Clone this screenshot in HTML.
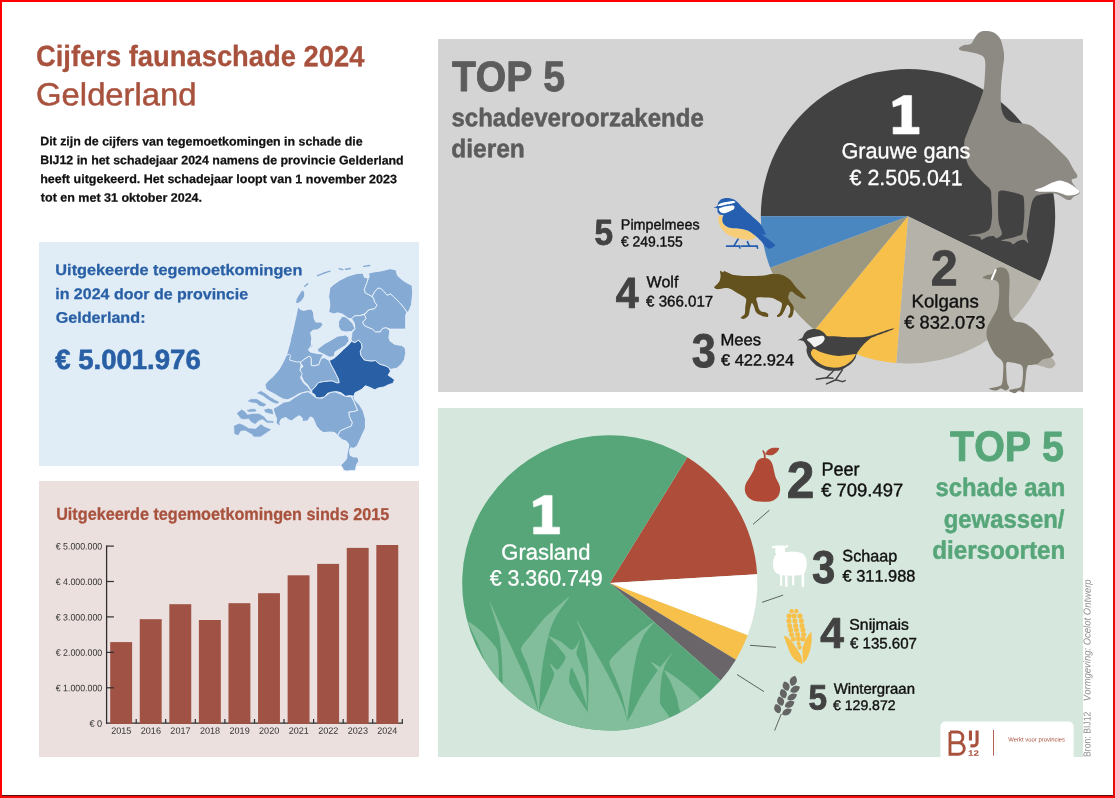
<!DOCTYPE html>
<html lang="nl"><head><meta charset="utf-8"><title>Cijfers faunaschade 2024 Gelderland</title>
<style>
html,body{margin:0;padding:0;background:#fff;}
body{width:1115px;height:798px;overflow:hidden;position:relative;font-family:"Liberation Sans",sans-serif;}
svg{position:absolute;left:0;top:0;display:block;opacity:0.9999;will-change:opacity;}
svg text{font-family:"Liberation Sans",sans-serif;font-kerning:none;text-rendering:geometricPrecision;}
.frame{position:absolute;left:0;top:0;width:1115px;height:798px;box-sizing:border-box;pointer-events:none;}
.fl{position:absolute;left:0;top:0;width:2px;height:798px;background:#fe0000;}
.ft{position:absolute;left:0;top:0;width:1115px;height:2px;background:#fe0000;}
.fr1{position:absolute;left:1113px;top:0;width:1px;height:798px;background:#d01414;}
.fr2{position:absolute;left:1114px;top:0;width:1px;height:798px;background:#fb0505;}
.fb1{position:absolute;left:0;top:795px;width:1115px;height:1px;background:#5a1008;}
.fb2{position:absolute;left:0;top:796px;width:1115px;height:2px;background:#f50a0a;}
</style></head>
<body>
<svg width="1115" height="798" viewBox="0 0 1115 798">
<rect x="39.00" y="242.00" width="380.00" height="224.00" fill="#e0ecf6" />
<rect x="39.00" y="481.00" width="380.00" height="276.00" fill="#ebe0de" />
<rect x="438.00" y="39.00" width="645.00" height="353.00" fill="#d4d4d4" />
<rect x="438.00" y="408.00" width="645.00" height="349.00" fill="#d6e8dd" />
<text x="36.03" y="66.05" font-size="29.22" font-weight="bold"  fill="#a8523e" textLength="328.37" lengthAdjust="spacingAndGlyphs" transform="rotate(0.05 200.7 66.0)"  stroke="#a8523e" stroke-width="0.3" stroke-linejoin="round">Cijfers faunaschade 2024</text>
<text x="36.10" y="105.30" font-size="31.83"   fill="#a8523e" textLength="160.46" lengthAdjust="spacingAndGlyphs" transform="rotate(0.05 116.1 105.3)"  stroke="#a8523e" stroke-width="0.5" stroke-linejoin="round">Gelderland</text>
<text x="40.20" y="145.47" font-size="12.21" font-weight="bold"  fill="#111" textLength="322.40" lengthAdjust="spacingAndGlyphs" transform="rotate(0.05 201.6 145.5)"  stroke="#111" stroke-width="0.25" stroke-linejoin="round">Dit zijn de cijfers van tegemoetkomingen in schade die</text>
<text x="40.20" y="164.28" font-size="12.21" font-weight="bold"  fill="#111" textLength="363.50" lengthAdjust="spacingAndGlyphs" transform="rotate(0.05 221.9 164.3)"  stroke="#111" stroke-width="0.25" stroke-linejoin="round">BIJ12 in het schadejaar 2024 namens de provincie Gelderland</text>
<text x="40.15" y="183.07" font-size="12.21" font-weight="bold"  fill="#111" textLength="356.78" lengthAdjust="spacingAndGlyphs" transform="rotate(0.05 218.8 183.1)"  stroke="#111" stroke-width="0.25" stroke-linejoin="round">heeft uitgekeerd. Het schadejaar loopt van 1 november 2023</text>
<text x="40.87" y="201.68" font-size="12.21" font-weight="bold"  fill="#111" textLength="161.16" lengthAdjust="spacingAndGlyphs" transform="rotate(0.05 121.1 201.7)"  stroke="#111" stroke-width="0.25" stroke-linejoin="round">tot en met 31 oktober 2024.</text>
<text x="55.35" y="275.07" font-size="15.33" font-weight="bold"  fill="#285fa5" textLength="247.04" lengthAdjust="spacingAndGlyphs" transform="rotate(0.05 178.8 275.1)"  stroke="#285fa5" stroke-width="0.25" stroke-linejoin="round">Uitgekeerde tegemoetkomingen</text>
<text x="55.21" y="299.18" font-size="15.33" font-weight="bold"  fill="#285fa5" textLength="192.91" lengthAdjust="spacingAndGlyphs" transform="rotate(0.05 151.9 299.2)"  stroke="#285fa5" stroke-width="0.25" stroke-linejoin="round">in 2024 door de provincie</text>
<text x="55.66" y="322.77" font-size="15.33" font-weight="bold"  fill="#285fa5" textLength="89.87" lengthAdjust="spacingAndGlyphs" transform="rotate(0.05 100.2 322.8)"  stroke="#285fa5" stroke-width="0.25" stroke-linejoin="round">Gelderland:</text>
<text x="55.17" y="369.00" font-size="27.76" font-weight="bold"  fill="#285fa5" textLength="145.63" lengthAdjust="spacingAndGlyphs" transform="rotate(0.05 127.5 369.0)"  stroke="#285fa5" stroke-width="0.6" stroke-linejoin="round">€ 5.001.976</text>
<text x="56.18" y="519.85" font-size="17.15" font-weight="bold"  fill="#a8523e" textLength="333.12" lengthAdjust="spacingAndGlyphs" transform="rotate(0.05 223.0 519.9)"  stroke="#a8523e" stroke-width="0.3" stroke-linejoin="round">Uitgekeerde tegemoetkomingen sinds 2015</text>
<line x1="106.6" y1="545.5" x2="106.6" y2="723.8" stroke="#2e2e2e" stroke-width="1.3" />
<line x1="106.0" y1="723.2" x2="402.9" y2="723.2" stroke="#2e2e2e" stroke-width="1.3" />
<rect x="110.20" y="642.10" width="21.90" height="81.80" fill="#a05244" />
<rect x="139.77" y="619.20" width="21.90" height="104.70" fill="#a05244" />
<rect x="169.34" y="604.20" width="21.90" height="119.70" fill="#a05244" />
<rect x="198.91" y="620.00" width="21.90" height="103.90" fill="#a05244" />
<rect x="228.48" y="603.20" width="21.90" height="120.70" fill="#a05244" />
<rect x="258.05" y="593.20" width="21.90" height="130.70" fill="#a05244" />
<rect x="287.62" y="575.30" width="21.90" height="148.60" fill="#a05244" />
<rect x="317.19" y="563.90" width="21.90" height="160.00" fill="#a05244" />
<rect x="346.76" y="547.90" width="21.90" height="176.00" fill="#a05244" />
<rect x="376.33" y="545.00" width="21.90" height="178.90" fill="#a05244" />
<text x="89.43" y="726.70" font-size="9.40"   fill="#333" textLength="12.83" lengthAdjust="spacingAndGlyphs" transform="rotate(0.05 95.7 726.7)" >€ 0</text>
<line x1="106.6" y1="687.8" x2="113.9" y2="687.8" stroke="#2e2e2e" stroke-width="1.2" />
<text x="55.73" y="691.28" font-size="9.40"   fill="#333" textLength="46.51" lengthAdjust="spacingAndGlyphs" transform="rotate(0.05 78.8 691.3)" >€ 1.000.000</text>
<line x1="106.6" y1="652.4" x2="113.9" y2="652.4" stroke="#2e2e2e" stroke-width="1.2" />
<text x="55.73" y="655.86" font-size="9.40"   fill="#333" textLength="46.51" lengthAdjust="spacingAndGlyphs" transform="rotate(0.05 78.8 655.9)" >€ 2.000.000</text>
<line x1="106.6" y1="616.9" x2="113.9" y2="616.9" stroke="#2e2e2e" stroke-width="1.2" />
<text x="55.73" y="620.44" font-size="9.40"   fill="#333" textLength="46.51" lengthAdjust="spacingAndGlyphs" transform="rotate(0.05 78.8 620.4)" >€ 3.000.000</text>
<line x1="106.6" y1="581.5" x2="113.9" y2="581.5" stroke="#2e2e2e" stroke-width="1.2" />
<text x="55.73" y="585.02" font-size="9.40"   fill="#333" textLength="46.51" lengthAdjust="spacingAndGlyphs" transform="rotate(0.05 78.8 585.0)" >€ 4.000.000</text>
<line x1="106.6" y1="546.1" x2="113.9" y2="546.1" stroke="#2e2e2e" stroke-width="1.2" />
<text x="55.73" y="549.60" font-size="9.40"   fill="#333" textLength="46.51" lengthAdjust="spacingAndGlyphs" transform="rotate(0.05 78.8 549.6)" >€ 5.000.000</text>
<line x1="136.2" y1="723.2" x2="136.2" y2="719.0" stroke="#2e2e2e" stroke-width="1.2" />
<line x1="165.7" y1="723.2" x2="165.7" y2="719.0" stroke="#2e2e2e" stroke-width="1.2" />
<line x1="195.3" y1="723.2" x2="195.3" y2="719.0" stroke="#2e2e2e" stroke-width="1.2" />
<line x1="224.9" y1="723.2" x2="224.9" y2="719.0" stroke="#2e2e2e" stroke-width="1.2" />
<line x1="254.5" y1="723.2" x2="254.5" y2="719.0" stroke="#2e2e2e" stroke-width="1.2" />
<line x1="284.0" y1="723.2" x2="284.0" y2="719.0" stroke="#2e2e2e" stroke-width="1.2" />
<line x1="313.6" y1="723.2" x2="313.6" y2="719.0" stroke="#2e2e2e" stroke-width="1.2" />
<line x1="343.2" y1="723.2" x2="343.2" y2="719.0" stroke="#2e2e2e" stroke-width="1.2" />
<line x1="372.7" y1="723.2" x2="372.7" y2="719.0" stroke="#2e2e2e" stroke-width="1.2" />
<line x1="402.3" y1="723.2" x2="402.3" y2="719.0" stroke="#2e2e2e" stroke-width="1.2" />
<text x="111.23" y="733.80" font-size="9.10"   fill="#333" textLength="20.14" lengthAdjust="spacingAndGlyphs" transform="rotate(0.05 121.3 733.8)" >2015</text>
<text x="140.80" y="733.80" font-size="9.10"   fill="#333" textLength="20.15" lengthAdjust="spacingAndGlyphs" transform="rotate(0.05 150.9 733.8)" >2016</text>
<text x="170.37" y="733.80" font-size="9.10"   fill="#333" textLength="20.21" lengthAdjust="spacingAndGlyphs" transform="rotate(0.05 180.5 733.8)" >2017</text>
<text x="199.94" y="733.80" font-size="9.10"   fill="#333" textLength="20.15" lengthAdjust="spacingAndGlyphs" transform="rotate(0.05 210.0 733.8)" >2018</text>
<text x="229.51" y="733.80" font-size="9.10"   fill="#333" textLength="20.19" lengthAdjust="spacingAndGlyphs" transform="rotate(0.05 239.6 733.8)" >2019</text>
<text x="259.08" y="733.80" font-size="9.10"   fill="#333" textLength="20.11" lengthAdjust="spacingAndGlyphs" transform="rotate(0.05 269.2 733.8)" >2020</text>
<text x="288.65" y="733.80" font-size="9.10"   fill="#333" textLength="20.20" lengthAdjust="spacingAndGlyphs" transform="rotate(0.05 298.8 733.8)" >2021</text>
<text x="318.22" y="733.80" font-size="9.10"   fill="#333" textLength="20.21" lengthAdjust="spacingAndGlyphs" transform="rotate(0.05 328.3 733.8)" >2022</text>
<text x="347.79" y="733.80" font-size="9.10"   fill="#333" textLength="20.15" lengthAdjust="spacingAndGlyphs" transform="rotate(0.05 357.9 733.8)" >2023</text>
<text x="377.36" y="733.80" font-size="9.10"   fill="#333" textLength="20.02" lengthAdjust="spacingAndGlyphs" transform="rotate(0.05 387.5 733.8)" >2024</text>
<polygon points="329.9,287.7 334.0,284.2 339.8,280.2 348.0,276.1 357.3,273.4 363.1,273.2 364.3,277.2 368.4,278.4 366.6,283.6 364.3,289.5 365.4,293.0 370.1,295.3 373.6,298.2 374.8,302.3 377.1,305.2 374.8,308.7 368.9,309.9 364.3,314.0 359.6,315.7 355.0,315.7 351.5,318.6 348.5,318.6 345.6,316.3 342.1,314.0 337.5,312.8 334.0,314.0 328.7,312.2 329.9,304.6 328.7,296.5" fill="#85aad4" stroke="#e8f1fa" stroke-width="0.9" stroke-linejoin="round"/>
<polygon points="368.4,273.2 373.6,272.0 381.8,270.8 389.9,268.7 395.8,269.7 397.5,275.5 402.8,280.2 407.4,283.1 412.1,285.4 412.7,293.0 411.5,304.6 409.2,310.5 406.8,312.8 405.1,309.3 399.3,302.3 393.4,296.5 390.5,294.1 387.0,295.3 384.1,291.8 380.6,288.3 377.7,288.3 374.2,292.4 372.4,296.5 370.1,295.3 365.4,293.0 364.3,289.5 366.6,283.6 368.4,278.4 369.2,276.7" fill="#85aad4" stroke="#e8f1fa" stroke-width="0.9" stroke-linejoin="round"/>
<polygon points="374.2,292.4 377.7,288.3 380.6,288.3 384.1,291.8 387.0,295.3 390.5,294.1 393.4,296.5 399.3,302.3 405.1,309.3 406.8,312.8 405.7,315.1 405.7,329.1 401.6,329.1 389.9,329.1 387.0,328.0 384.1,328.0 381.2,329.7 380.6,332.0 375.4,332.0 372.4,329.1 367.8,327.4 364.3,325.6 362.5,322.1 366.0,318.6 364.3,315.1 368.9,309.9 374.8,308.7 377.1,305.2 374.8,302.3 373.6,298.2 372.4,296.5" fill="#85aad4" stroke="#e8f1fa" stroke-width="0.9" stroke-linejoin="round"/>
<polygon points="351.5,318.6 355.0,315.7 359.6,315.7 364.3,314.5 366.0,318.6 362.5,322.1 364.3,325.6 367.8,327.4 372.4,329.1 375.4,332.0 380.6,332.0 381.2,329.7 384.1,328.0 387.0,328.0 389.9,330.9 389.3,334.9 388.8,337.3 389.9,340.8 394.6,344.3 401.6,345.5 405.1,347.8 405.7,352.5 404.5,359.5 401.6,364.1 396.9,368.2 390.5,369.4 388.8,367.6 385.3,365.9 379.4,364.1 375.4,360.6 371.3,361.2 364.3,360.1 360.8,355.4 360.2,351.3 361.9,347.8 361.4,343.7 358.5,340.2 355.0,342.6 351.5,341.4 350.9,337.3 351.5,337.3 352.0,332.6 355.0,329.1 354.4,323.3" fill="#85aad4" stroke="#e8f1fa" stroke-width="0.9" stroke-linejoin="round"/>
<polygon points="342.1,316.3 345.6,316.9 348.5,319.2 352.6,323.3 355.0,328.5 351.5,331.5 345.6,332.0 341.0,330.9 338.6,326.8 338.6,321.5" fill="#85aad4" stroke="#e8f1fa" stroke-width="0.9" stroke-linejoin="round"/>
<polygon points="317.6,349.0 324.6,343.7 331.6,339.7 337.5,336.2 345.6,335.0 348.5,337.3 349.1,340.8 345.6,345.5 339.8,349.0 335.1,351.9 334.0,356.6 329.3,357.2 323.5,354.2 317.6,351.3" fill="#85aad4" stroke="#e8f1fa" stroke-width="0.9" stroke-linejoin="round"/>
<polygon points="297.8,306.4 300.2,309.3 303.7,310.5 308.3,309.3 311.8,309.3 313.6,312.8 314.1,318.6 315.9,322.1 321.1,322.1 322.9,324.5 321.1,327.4 317.6,329.7 313.0,330.3 310.6,332.6 311.8,338.4 311.2,343.1 313.0,345.4 310.1,351.0 312.4,339.7 311.8,345.5 308.3,349.6 310.1,351.9 316.5,353.4 323.5,354.2 321.1,358.3 318.8,364.7 314.1,365.9 311.2,365.3 311.2,358.3 309.5,356.0 304.8,358.9 300.2,362.4 296.7,362.4 289.7,360.6 288.5,355.4 286.5,354.9 287.7,350.8 290.0,342.6 291.8,333.3 293.5,321.7 294.7,310.0 292.0,333.8 295.5,318.6 297.2,310.5" fill="#85aad4" stroke="#e8f1fa" stroke-width="0.9" stroke-linejoin="round"/>
<polygon points="300.2,362.4 304.8,358.9 309.5,356.0 311.2,358.3 311.2,365.3 314.1,365.9 318.8,364.7 321.1,358.3 324.6,357.7 329.3,360.6 331.1,364.7 334.0,370.0 336.3,374.6 338.6,379.3 339.2,382.8 336.3,382.8 332.8,381.1 329.3,381.1 323.5,381.6 318.2,382.8 315.3,386.9 311.8,390.4 310.1,389.2 307.7,385.1 303.7,381.1 300.7,374.6 300.2,368.8 303.1,366.5" fill="#85aad4" stroke="#e8f1fa" stroke-width="0.9" stroke-linejoin="round"/>
<polygon points="286.5,354.9 289.5,354.3 290.6,355.5 289.5,360.1 296.5,361.9 300.0,361.9 301.1,364.8 300.0,370.6 302.3,373.5 300.5,377.6 303.5,382.9 308.1,386.9 310.4,390.4 311.6,392.2 307.5,391.6 304.6,392.2 298.8,393.9 293.0,397.4 287.7,399.8 283.6,399.2 279.0,396.9 274.3,393.9 269.6,391.6 266.1,389.3 265.0,384.6 268.5,380.5 273.1,376.5 279.0,369.5 283.6,361.3" fill="#85aad4" stroke="#e8f1fa" stroke-width="0.9" stroke-linejoin="round"/>
<polygon points="273.1,408.7 279.0,405.2 283.6,402.2 289.5,401.1 295.3,397.0 302.3,392.9 308.1,391.7 311.6,394.1 315.7,397.6 322.1,398.2 326.8,395.2 330.3,392.3 334.9,391.7 340.8,394.1 345.4,396.4 350.7,396.4 353.6,400.5 355.9,406.3 357.7,410.4 353.6,411.6 348.9,412.2 349.5,416.8 352.4,422.6 351.3,426.1 345.4,428.5 340.2,430.8 337.8,435.5 334.9,432.6 330.3,432.0 323.3,432.6 319.8,430.2 316.3,426.1 314.5,421.5 312.8,418.0 310.4,416.8 307.5,420.9 302.3,421.5 302.3,418.0 299.4,415.6 295.3,418.0 291.8,420.9 288.3,419.7 286.0,417.4 281.3,419.1 279.6,422.6 280.7,425.6 277.8,425.0 276.1,422.6 276.6,418.6 274.9,414.5" fill="#85aad4" stroke="#e8f1fa" stroke-width="0.9" stroke-linejoin="round"/>
<polygon points="357.7,410.4 353.6,411.6 348.9,412.2 349.5,416.8 352.4,422.6 351.3,426.1 345.4,428.5 340.2,430.8 337.8,435.5 339.0,436.6 341.9,439.6 346.6,441.3 348.9,444.8 348.3,448.3 347.2,453.0 346.6,458.8 343.7,462.3 340.8,465.2 342.5,467.5 343.7,470.4 347.2,471.0 351.3,470.4 355.3,470.4 356.5,464.6 358.8,461.1 357.7,457.0 353.6,457.0 350.1,455.3 349.5,450.6 350.7,447.7 353.6,448.3 357.1,446.0 365.4,428.0 365.4,418.9 363.1,410.8 359.6,405.0 355.0,400.3 353.8,396.2 351.5,395.6" fill="#85aad4" stroke="#e8f1fa" stroke-width="0.9" stroke-linejoin="round"/>
<polygon points="257.4,392.9 260.9,391.2 265.0,393.5 269.6,397.0 275.5,400.5 279.0,402.2 276.6,403.4 272.0,401.7 267.3,398.7 262.6,395.2" fill="#85aad4" stroke="#85aad4" stroke-width="0.4" stroke-linejoin="round"/>
<polygon points="248.1,401.1 251.0,399.3 256.8,399.3 261.5,402.2 266.1,404.6 263.8,406.3 259.7,405.7 256.2,402.8 251.6,402.2" fill="#85aad4" stroke="#85aad4" stroke-width="0.4" stroke-linejoin="round"/>
<polygon points="246.9,410.4 251.0,409.2 255.1,409.2 256.2,411.0 252.7,411.6 248.7,411.6" fill="#85aad4" stroke="#85aad4" stroke-width="0.4" stroke-linejoin="round"/>
<polygon points="264.4,409.8 268.5,408.7 272.0,409.8 273.1,413.9 269.6,413.3 265.6,412.2" fill="#85aad4" stroke="#85aad4" stroke-width="0.4" stroke-linejoin="round"/>
<polygon points="237.0,413.3 241.7,409.8 244.6,411.6 247.5,415.1 252.2,413.9 259.1,413.9 263.8,416.8 267.3,420.9 273.7,421.5 273.1,422.6 267.3,422.6 262.6,419.1 259.1,420.3 255.1,423.8 251.0,421.5 248.7,418.6 244.0,419.1 241.1,418.6" fill="#85aad4" stroke="#85aad4" stroke-width="0.4" stroke-linejoin="round"/>
<polygon points="234.1,426.1 239.3,423.8 242.8,425.0 248.7,428.5 255.6,429.1 260.9,424.4 265.0,427.3 270.8,429.6 263.8,434.3 260.3,436.6 253.9,436.6 252.2,434.3 245.2,430.2 240.5,430.8 238.2,434.9 234.7,433.7" fill="#85aad4" stroke="#85aad4" stroke-width="0.4" stroke-linejoin="round"/>
<path d="M302.7,290.6C303.4,290.5 304.1,292.7 304.2,293.6C304.4,294.4 304.1,296.2 303.8,297.1C303.4,297.9 302.3,299.4 301.6,300.2C300.8,301.0 299.0,302.4 298.3,302.8C297.6,303.1 296.5,303.3 296.3,302.8C296.1,302.2 296.5,299.9 296.9,298.8C297.3,297.7 298.7,295.5 299.5,294.4C300.2,293.3 302.1,290.8 302.7,290.6Z" fill="#85aad4" />
<line x1="304.8" y1="286.2" x2="307.7" y2="283.9" stroke="#85aad4" stroke-width="1.4" stroke-linecap="round"/>
<line x1="317.6" y1="275.7" x2="324.6" y2="272.8" stroke="#85aad4" stroke-width="1.4" stroke-linecap="round"/>
<line x1="324.6" y1="272.8" x2="329.9" y2="271.1" stroke="#85aad4" stroke-width="1.4" stroke-linecap="round"/>
<line x1="339.2" y1="268.7" x2="342.7" y2="269.7" stroke="#85aad4" stroke-width="1.4" stroke-linecap="round"/>
<line x1="345.6" y1="269.3" x2="350.3" y2="268.5" stroke="#85aad4" stroke-width="1.4" stroke-linecap="round"/>
<line x1="363.7" y1="266.4" x2="369.5" y2="265.5" stroke="#85aad4" stroke-width="1.4" stroke-linecap="round"/>
<polygon points="351.5,341.4 355.0,342.6 358.5,340.2 361.4,343.7 361.9,347.8 360.2,351.3 360.8,355.4 364.3,360.1 371.3,361.2 375.4,360.6 379.4,364.1 385.3,365.9 388.8,367.6 390.5,371.1 388.2,375.2 391.7,377.6 394.6,379.9 392.8,383.4 388.8,384.6 384.1,386.9 378.3,388.0 374.8,389.8 370.1,387.5 365.4,385.7 361.9,389.2 358.5,391.0 355.0,392.7 353.8,396.2 349.7,395.6 345.6,396.2 341.0,392.7 336.3,391.5 331.6,392.1 327.6,393.3 324.6,396.8 320.0,398.0 315.9,397.4 314.7,394.5 311.8,392.7 311.8,390.4 315.3,386.9 318.2,382.8 323.5,381.6 329.3,381.1 332.8,381.1 336.3,382.8 339.2,382.8 338.6,379.3 336.3,374.6 334.0,370.0 331.1,364.7 329.3,360.6 334.0,358.3 338.6,354.2 343.3,349.6 348.5,344.9" fill="#285fa5" stroke="#e8f1fa" stroke-width="0.9" stroke-linejoin="round"/>
<text x="452.01" y="91.05" font-size="42.44" font-weight="bold"  fill="#5c5c5c" textLength="112.93" lengthAdjust="spacingAndGlyphs" transform="rotate(0.05 508.1 91.0)"  stroke="#5c5c5c" stroke-width="0.9" stroke-linejoin="round">TOP 5</text>
<text x="451.41" y="126.35" font-size="25.47" font-weight="bold"  fill="#5c5c5c" textLength="252.37" lengthAdjust="spacingAndGlyphs" transform="rotate(0.05 577.6 126.3)"  stroke="#5c5c5c" stroke-width="0.5" stroke-linejoin="round">schadeveroorzakende</text>
<text x="451.24" y="157.25" font-size="25.47" font-weight="bold"  fill="#5c5c5c" textLength="73.63" lengthAdjust="spacingAndGlyphs" transform="rotate(0.05 487.8 157.2)"  stroke="#5c5c5c" stroke-width="0.5" stroke-linejoin="round">dieren</text>
<path d="M908.00,216.20L760.80,216.20A147.2,147.2 0 1 1 1040.17,281.00Z" fill="#424242"/>
<path d="M908.00,216.20L1040.17,281.00A147.2,147.2 0 0 1 896.24,362.93Z" fill="#b5b2aa"/>
<path d="M908.00,216.20L896.24,362.93A147.2,147.2 0 0 1 814.60,329.97Z" fill="#f7c04a"/>
<path d="M908.00,216.20L814.60,329.97A147.2,147.2 0 0 1 770.12,267.75Z" fill="#9c9880"/>
<path d="M908.00,216.20L770.12,267.75A147.2,147.2 0 0 1 760.80,216.20Z" fill="#4a86c0"/>
<path d="M959.0,48.3C959.4,47.4 961.5,46.1 963.5,45.3C965.5,44.5 969.2,45.1 971.1,43.8C972.9,42.5 973.4,39.7 974.8,37.8C976.2,35.9 977.6,33.6 979.3,32.5C981.1,31.4 983.0,31.0 985.3,31.0C987.7,31.0 991.2,31.4 993.6,32.5C996.0,33.6 998.1,35.5 999.6,37.8C1001.1,40.0 1001.9,42.9 1002.6,46.1C1003.4,49.2 1004.1,52.6 1004.1,56.6C1004.1,60.6 1003.1,65.4 1002.6,70.1C1002.1,74.9 1001.4,80.1 1001.1,85.2C1000.8,90.2 1000.7,95.9 1000.8,100.2C1001.0,104.4 1001.1,107.7 1001.9,110.7C1002.7,113.7 1004.0,116.4 1005.6,118.2C1007.3,120.1 1008.9,121.1 1011.7,122.0C1014.4,122.9 1018.9,122.9 1022.2,123.5C1025.4,124.1 1028.2,124.1 1031.2,125.8C1034.2,127.4 1037.2,130.8 1040.2,133.3C1043.2,135.7 1046.2,137.8 1049.2,140.5C1052.3,143.2 1055.3,146.5 1058.3,149.5C1061.3,152.6 1064.8,155.3 1067.3,158.6C1069.8,161.8 1071.7,166.3 1073.3,169.1C1074.9,171.9 1076.6,173.6 1077.1,175.1C1077.6,176.6 1077.2,177.4 1076.3,178.1C1075.4,178.9 1072.3,178.6 1071.8,179.6C1071.3,180.6 1072.1,182.1 1073.3,184.1C1074.6,186.1 1078.6,189.9 1079.3,191.7C1080.1,193.4 1078.8,193.8 1077.8,194.7C1076.8,195.5 1074.6,196.0 1073.3,196.9C1072.1,197.8 1071.6,199.5 1070.3,199.9C1069.0,200.3 1067.8,200.1 1065.8,199.2C1063.8,198.3 1060.5,195.7 1058.3,194.7C1056.0,193.7 1055.3,193.2 1052.3,193.2C1049.2,193.2 1043.1,194.0 1040.2,194.7C1037.3,195.3 1036.3,195.7 1035.0,196.9C1033.6,198.2 1032.8,199.3 1032.0,202.2C1031.1,205.1 1030.3,210.2 1029.7,214.2C1029.1,218.2 1028.7,222.7 1028.2,226.2C1027.7,229.7 1026.7,232.5 1026.7,235.3C1026.7,238.0 1028.7,242.0 1028.2,242.8C1027.7,243.5 1025.4,240.0 1023.7,239.8C1021.9,239.5 1019.4,240.5 1017.7,241.3C1015.9,242.0 1014.4,244.2 1013.2,244.3C1011.9,244.4 1012.2,242.7 1010.2,242.0C1008.1,241.4 1001.1,241.2 1001.1,240.5C1001.1,239.9 1007.4,239.0 1010.2,238.3C1012.9,237.5 1015.7,236.8 1017.7,236.0C1019.7,235.3 1021.2,235.9 1022.2,233.8C1023.2,231.6 1023.3,227.0 1023.7,223.2C1024.1,219.5 1024.4,215.5 1024.4,211.2C1024.4,206.9 1024.3,200.4 1023.7,197.7C1023.1,194.9 1022.9,195.7 1020.7,194.7C1018.4,193.7 1013.7,192.3 1010.2,191.7C1006.6,191.0 1001.6,189.9 999.6,190.9C997.6,191.9 998.4,194.3 998.1,197.7C997.9,201.1 998.0,206.9 998.1,211.2C998.2,215.5 998.2,219.5 998.9,223.2C999.5,227.0 1002.3,231.3 1001.9,233.8C1001.5,236.3 998.0,237.9 996.6,238.3C995.2,238.6 995.1,236.3 993.6,236.0C992.1,235.8 989.6,236.1 987.6,236.8C985.6,237.4 983.0,239.8 981.6,239.8C980.2,239.8 981.6,237.5 979.3,236.8C977.1,236.0 967.9,235.8 968.0,235.3C968.2,234.8 976.8,234.5 980.1,233.8C983.3,233.0 985.8,232.0 987.6,230.8C989.3,229.5 989.8,229.0 990.6,226.2C991.4,223.5 992.0,218.5 992.1,214.2C992.2,209.9 991.6,204.7 991.4,200.7C991.1,196.7 991.7,192.9 990.6,190.2C989.5,187.4 987.1,186.6 984.6,184.1C982.1,181.6 978.3,178.4 975.6,175.1C972.8,171.9 969.8,168.3 968.0,164.6C966.3,160.8 965.7,156.3 965.0,152.6C964.4,148.8 964.0,145.0 964.3,142.0C964.5,139.1 965.4,138.0 966.5,134.8C967.7,131.6 969.5,126.5 971.1,122.7C972.6,119.0 974.1,116.0 975.6,112.2C977.1,108.5 978.7,104.2 980.1,100.2C981.5,96.2 983.0,92.4 983.8,88.2C984.6,83.9 984.6,78.6 984.9,74.6C985.1,70.6 985.5,67.0 985.3,64.1C985.2,61.2 985.0,59.0 983.8,57.3C982.7,55.7 981.0,55.2 978.6,54.3C976.2,53.4 972.4,52.7 969.5,52.1C966.7,51.4 963.0,51.2 961.3,50.6C959.5,49.9 958.6,49.2 959.0,48.3Z" fill="#8c8a82" />
<path d="M1035.0,190.2C1035.5,189.4 1040.4,188.4 1043.2,187.1C1046.1,185.9 1049.5,183.8 1052.3,182.6C1055.0,181.5 1057.3,180.4 1059.8,180.4C1062.3,180.4 1064.8,181.5 1067.3,182.6C1069.8,183.8 1072.8,185.6 1074.8,187.1C1076.8,188.6 1079.3,190.4 1079.3,191.7C1079.3,192.9 1076.8,194.0 1074.8,194.7C1072.8,195.3 1070.1,195.8 1067.3,195.4C1064.5,195.0 1061.3,193.0 1058.3,192.4C1055.3,191.8 1052.3,191.8 1049.2,191.7C1046.2,191.5 1042.6,191.9 1040.2,191.7C1037.8,191.4 1034.5,190.9 1035.0,190.2Z" fill="#ffffff" />
<path d="M1039.1,355.4C1040.6,354.3 1045.4,355.0 1047.3,355.5C1049.1,356.1 1052.0,358.2 1053.1,359.4C1054.2,360.6 1055.8,363.2 1055.5,364.5C1055.1,365.7 1052.1,368.2 1050.4,368.5C1048.7,368.7 1044.7,367.3 1042.7,366.6C1040.8,366.0 1036.3,365.2 1035.8,363.7C1035.3,362.2 1037.6,356.5 1039.1,355.4Z" fill="#b0ada5" />
<path d="M982.7,277.7C982.3,277.0 985.8,275.6 987.3,275.0C988.8,274.4 990.6,275.0 991.8,274.1C993.0,273.2 993.3,270.7 994.5,269.5C995.8,268.4 997.4,267.6 999.1,267.4C1000.8,267.1 1003.0,267.3 1004.5,268.1C1006.1,268.9 1007.3,270.2 1008.2,272.3C1009.0,274.3 1009.5,276.7 1009.6,280.5C1009.8,284.2 1009.2,290.2 1009.1,295.0C1009.0,299.8 1008.8,305.9 1009.1,309.5C1009.4,313.2 1009.8,314.8 1010.9,316.8C1012.0,318.8 1013.2,320.3 1015.5,321.4C1017.7,322.4 1021.8,322.1 1024.5,323.2C1027.3,324.2 1029.4,325.8 1031.8,327.7C1034.2,329.7 1036.7,332.3 1039.1,335.0C1041.5,337.7 1044.2,341.4 1046.4,344.1C1048.5,346.8 1050.6,349.5 1051.8,351.4C1053.0,353.2 1053.9,353.9 1053.6,355.0C1053.3,356.1 1051.8,357.0 1050.0,357.7C1048.2,358.5 1044.8,358.5 1042.7,359.5C1040.6,360.6 1039.1,363.2 1037.3,364.1C1035.5,365.0 1033.5,364.5 1031.8,365.0C1030.2,365.5 1028.3,364.2 1027.3,366.8C1026.2,369.4 1025.9,376.8 1025.5,380.5C1025.0,384.1 1024.8,386.7 1024.5,388.6C1024.2,390.6 1024.5,392.0 1023.6,392.3C1022.7,392.6 1020.6,390.3 1019.1,390.5C1017.6,390.6 1016.2,393.2 1014.5,393.2C1012.9,393.2 1008.9,391.2 1009.1,390.5C1009.2,389.7 1013.5,389.2 1015.5,388.6C1017.4,388.0 1019.7,388.5 1020.9,386.8C1022.1,385.2 1022.4,381.8 1022.7,378.6C1023.0,375.5 1023.3,370.2 1022.7,367.7C1022.1,365.3 1021.2,365.0 1019.1,364.1C1017.0,363.2 1012.1,362.4 1010.0,362.3C1007.9,362.1 1007.0,361.4 1006.4,363.2C1005.8,365.0 1006.2,369.8 1006.4,373.2C1006.5,376.5 1006.8,380.8 1007.3,383.2C1007.7,385.6 1009.4,386.5 1009.1,387.7C1008.8,388.9 1006.8,390.3 1005.5,390.5C1004.1,390.6 1002.4,388.6 1000.9,388.6C999.4,388.6 998.3,390.5 996.4,390.5C994.4,390.5 988.9,389.2 989.1,388.6C989.2,388.0 995.2,387.6 997.3,386.8C999.4,386.1 1000.8,386.4 1001.8,384.1C1002.8,381.8 1002.9,376.8 1003.1,373.2C1003.2,369.5 1004.0,365.3 1002.7,362.3C1001.5,359.2 997.6,357.7 995.5,355.0C993.3,352.3 991.5,348.9 990.0,345.9C988.5,342.9 987.2,339.8 986.7,336.8C986.3,333.8 986.4,330.8 987.3,327.7C988.1,324.7 990.2,322.0 991.8,318.6C993.5,315.3 996.1,311.7 997.3,307.7C998.5,303.8 998.8,298.9 999.1,295.0C999.3,291.1 999.3,286.5 998.7,284.1C998.1,281.7 996.9,281.2 995.5,280.5C994.0,279.7 992.1,280.0 990.0,279.5C987.9,279.1 983.2,278.5 982.7,277.7Z" fill="#827f72" />
<line x1="995.6" y1="269.9" x2="991.8" y2="279.2" stroke="#ffffff" stroke-width="2.1" stroke-linecap="round"/>
<path d="M718.8,216.1C719.5,215.7 721.9,215.1 722.5,216.1C723.1,217.0 722.2,220.3 722.5,221.8C722.9,223.3 723.5,224.1 724.6,225.0C725.6,226.0 727.0,226.9 728.6,227.5C730.3,228.0 732.2,228.0 734.3,228.3C736.5,228.6 739.4,228.7 741.7,229.1C744.0,229.5 746.3,229.9 748.2,230.7C750.1,231.5 751.8,233.0 753.1,234.0C754.3,234.9 755.4,235.6 755.5,236.4C755.6,237.3 755.0,238.3 753.9,238.9C752.8,239.4 751.0,239.7 749.0,239.7C747.0,239.7 744.2,239.3 741.7,238.9C739.1,238.5 736.0,238.1 733.5,237.3C731.1,236.4 729.0,235.5 727.0,234.0C725.0,232.5 722.7,230.2 721.3,228.3C719.9,226.4 719.3,224.2 718.8,222.6C718.4,221.0 718.4,219.6 718.4,218.5C718.4,217.4 718.2,216.5 718.8,216.1Z" fill="#f7cd78" />
<path d="M714.0,207.5C714.0,207.2 716.6,206.6 717.2,205.9C717.8,205.2 717.8,203.1 718.4,202.2C719.0,201.3 720.6,199.5 721.7,199.0C722.8,198.4 725.5,197.9 727.0,197.9C728.5,197.9 731.3,198.4 732.7,199.0C734.1,199.5 736.3,201.1 737.6,202.2C738.9,203.4 741.0,206.0 742.5,207.5C744.0,209.0 747.3,212.1 749.0,213.6C750.7,215.2 753.9,217.8 755.5,219.3C757.1,220.8 759.9,223.0 761.2,225.0C762.6,227.0 765.6,233.2 765.7,234.4C765.8,235.6 761.9,233.9 762.0,234.4C762.2,234.9 765.6,237.0 766.9,238.1C768.2,239.1 770.7,241.2 771.8,242.1C772.9,243.1 775.4,244.5 775.1,245.4C774.7,246.3 770.7,248.5 769.4,248.7C768.1,248.8 766.4,247.2 765.3,246.2C764.2,245.2 762.3,242.5 761.2,241.3C760.1,240.1 758.2,238.2 757.1,237.3C756.1,236.3 754.3,234.9 753.1,234.0C751.9,233.1 749.7,231.4 748.2,230.7C746.7,230.1 743.5,229.4 741.7,229.1C739.8,228.8 736.1,228.5 734.3,228.3C732.6,228.1 729.9,227.9 728.6,227.5C727.3,227.0 725.4,225.8 724.6,225.0C723.7,224.3 722.8,222.7 722.5,221.8C722.2,220.8 722.4,218.6 722.5,217.7C722.6,216.8 723.7,215.7 723.3,215.3C722.9,214.8 720.4,214.9 719.7,214.4C718.9,214.0 718.0,212.8 717.6,212.0C717.3,211.2 717.7,208.9 717.2,208.3C716.7,207.7 714.0,207.8 714.0,207.5Z" fill="#265fb0" />
<path d="M718.8,208.7C719.2,208.0 722.0,207.1 723.7,206.7C725.5,206.3 730.5,205.5 731.9,205.5C733.3,205.4 734.1,205.8 734.3,206.3C734.6,206.8 734.6,208.4 733.9,209.1C733.3,209.9 730.7,211.0 729.4,211.6C728.2,212.1 725.7,213.1 724.6,213.2C723.4,213.3 721.6,213.0 720.9,212.4C720.1,211.8 718.5,209.5 718.8,208.7Z" fill="#ffffff" />
<path d="M718.0,205.1C718.4,204.8 720.3,203.4 721.3,203.0C722.3,202.7 726.6,202.0 727.8,201.8C729.0,201.6 732.7,201.0 733.5,201.0C734.3,201.0 735.7,202.0 735.5,202.2C735.4,202.5 732.9,203.2 731.9,203.4C730.9,203.7 726.5,204.4 725.4,204.7C724.2,204.9 721.2,205.8 720.5,205.9C719.7,206.0 718.3,206.0 718.0,205.9C717.8,205.8 717.7,205.4 718.0,205.1Z" fill="#ffffff" />
<line x1="738.0" y1="239.3" x2="734.3" y2="245.4" stroke="#265fb0" stroke-width="1.7" stroke-linecap="round"/>
<line x1="726.6" y1="246.2" x2="739.6" y2="246.2" stroke="#265fb0" stroke-width="1.7" stroke-linecap="round"/>
<line x1="747.4" y1="241.7" x2="749.4" y2="246.2" stroke="#265fb0" stroke-width="1.7" stroke-linecap="round"/>
<line x1="741.7" y1="246.2" x2="757.1" y2="246.2" stroke="#265fb0" stroke-width="1.7" stroke-linecap="round"/>
<line x1="739.6" y1="246.2" x2="739.8" y2="248.0" stroke="#265fb0" stroke-width="1.7" stroke-linecap="round"/>
<line x1="757.1" y1="246.2" x2="757.5" y2="248.2" stroke="#265fb0" stroke-width="1.7" stroke-linecap="round"/>
<path d="M714.1,287.2C714.2,286.5 716.6,284.8 717.3,283.9C718.1,283.1 719.2,281.7 719.7,280.7C720.1,279.6 720.5,277.3 720.6,276.0C720.7,274.7 719.8,271.4 720.1,270.9C720.4,270.4 722.4,272.3 722.9,272.3C723.5,272.3 723.6,270.8 724.3,270.9C725.0,270.9 726.8,272.2 728.1,272.7C729.4,273.3 732.1,274.6 734.1,275.1C736.2,275.5 740.7,275.9 743.4,276.0C746.2,276.1 751.9,276.1 754.6,276.0C757.4,275.9 761.7,275.8 764.0,275.5C766.2,275.3 769.6,274.3 771.4,274.1C773.3,273.9 776.2,273.9 778.0,274.1C779.7,274.4 782.9,275.2 784.5,276.0C786.1,276.7 788.8,278.6 790.1,279.7C791.3,280.8 792.8,283.1 793.8,284.4C794.8,285.6 796.4,287.8 797.6,289.1C798.7,290.3 801.1,292.5 802.2,293.7C803.3,294.9 805.6,297.2 805.9,297.9C806.3,298.6 805.8,298.9 805.0,298.8C804.3,298.8 801.6,298.0 800.4,297.4C799.1,296.9 796.7,295.4 795.7,294.6C794.7,293.9 793.6,292.2 792.9,291.9C792.1,291.5 790.7,291.2 790.1,291.9C789.5,292.5 788.3,295.4 788.2,296.5C788.1,297.6 788.7,299.3 789.2,300.2C789.7,301.2 791.3,303.0 792.0,304.0C792.6,305.0 793.6,306.6 793.8,307.7C794.0,308.8 793.6,311.2 793.4,312.4C793.1,313.6 792.5,315.8 792.0,316.6C791.4,317.3 789.7,318.0 789.2,318.0C788.7,318.0 788.1,317.3 788.2,316.6C788.3,315.8 789.8,313.6 790.1,312.4C790.3,311.2 790.5,308.7 790.1,307.7C789.7,306.7 788.0,304.5 787.3,304.9C786.5,305.3 785.2,309.1 784.5,310.5C783.7,311.9 782.6,314.3 781.7,315.2C780.8,316.0 778.6,317.0 778.0,317.0C777.3,317.1 776.8,316.3 777.0,315.6C777.3,315.0 779.2,313.6 779.8,312.4C780.5,311.2 781.4,308.0 781.7,306.8C781.9,305.5 782.3,303.9 781.7,303.0C781.1,302.2 778.3,300.9 777.0,300.2C775.8,299.6 774.1,298.3 772.4,297.9C770.6,297.5 766.1,297.4 764.0,297.4C761.9,297.4 757.4,297.2 756.5,297.9C755.6,298.7 757.1,301.6 757.4,303.0C757.8,304.5 758.3,307.5 758.8,308.6C759.3,309.8 760.2,310.9 761.2,311.4C762.1,311.9 764.9,312.0 765.8,312.4C766.8,312.7 767.9,313.6 768.2,314.2C768.4,314.9 768.3,316.7 767.7,317.0C767.1,317.3 765.2,316.9 764.0,316.6C762.7,316.2 759.5,314.9 758.4,314.2C757.3,313.6 756.2,312.6 755.6,311.4C755.0,310.3 754.2,307.0 753.7,305.8C753.2,304.7 752.3,302.7 751.8,303.0C751.3,303.4 750.4,307.1 750.0,308.6C749.6,310.1 749.4,313.1 749.0,314.2C748.7,315.4 747.9,316.4 747.2,317.0C746.4,317.7 744.3,318.8 743.4,318.9C742.6,319.0 740.8,318.3 740.6,318.0C740.5,317.6 742.0,316.7 742.5,316.1C743.1,315.5 744.5,315.0 744.8,313.8C745.2,312.5 745.1,308.7 745.3,306.8C745.5,304.8 746.5,300.7 746.2,299.3C746.0,297.9 744.4,297.3 743.4,296.5C742.5,295.8 740.0,294.5 738.8,293.7C737.5,293.0 735.4,291.6 734.1,290.9C732.9,290.2 730.7,289.0 729.5,288.6C728.2,288.2 726.0,288.1 724.8,288.1C723.5,288.2 721.2,288.9 720.1,289.1C719.0,289.2 717.2,289.3 716.4,289.1C715.6,288.8 713.9,287.9 714.1,287.2Z" fill="#64521e" />
<path d="M798.1,340.1C797.9,339.6 801.5,338.5 802.3,337.7C803.1,336.9 803.4,335.0 804.1,334.0C804.9,333.0 806.6,330.9 807.9,330.3C809.1,329.6 812.0,328.9 813.5,328.9C814.9,328.8 817.7,329.3 819.1,329.8C820.4,330.3 822.7,331.8 823.7,332.6C824.8,333.4 825.6,335.4 827.0,335.9C828.3,336.4 831.2,336.1 834.0,336.3C836.8,336.5 844.2,337.1 848.0,337.3C851.7,337.4 859.2,337.4 862.0,337.3C864.7,337.1 866.6,336.8 868.5,336.3C870.4,335.9 873.7,334.7 876.0,334.0C878.2,333.2 883.0,331.4 885.3,330.7C887.6,330.0 892.2,328.8 893.2,328.6C894.3,328.4 894.3,328.8 893.2,329.3C892.2,329.9 887.6,331.7 885.3,332.6C883.0,333.5 877.8,335.2 876.0,335.9C874.1,336.5 872.3,337.2 871.3,337.7C870.3,338.3 869.5,339.2 868.5,340.1C867.5,340.9 865.1,342.9 863.8,344.3C862.6,345.6 860.2,348.5 859.2,349.9C858.2,351.2 856.9,353.4 856.4,354.5C855.9,355.6 856.1,357.1 855.4,358.2C854.8,359.4 852.8,361.8 851.7,362.9C850.6,364.0 848.3,365.8 847.0,366.6C845.8,367.5 843.7,368.9 842.4,369.4C841.0,370.0 838.3,370.7 836.8,370.8C835.3,371.0 832.8,371.0 831.2,370.8C829.6,370.7 826.4,370.0 824.6,369.4C822.9,368.9 819.7,367.6 818.1,366.6C816.5,365.6 813.8,363.3 812.5,362.0C811.2,360.6 809.1,357.9 808.3,356.4C807.5,354.9 806.6,352.0 806.5,350.8C806.3,349.5 807.1,348.0 806.9,347.1C806.7,346.1 805.6,344.1 805.1,343.3C804.6,342.5 804.1,341.4 803.2,341.0C802.3,340.6 798.2,340.5 798.1,340.1Z" fill="#424242" />
<path d="M813.9,348.9C815.3,348.9 817.7,350.9 820.0,351.7C822.3,352.6 826.5,353.9 829.3,354.5C832.1,355.1 835.8,355.8 838.6,355.9C841.4,356.0 845.5,355.3 848.0,355.0C850.5,354.7 854.6,353.6 855.4,354.0C856.3,354.5 854.4,357.1 853.6,358.2C852.7,359.4 851.2,360.9 849.8,362.0C848.4,363.1 846.2,364.9 844.2,365.7C842.3,366.5 839.0,367.4 836.8,367.6C834.5,367.8 831.6,367.5 829.3,367.1C827.1,366.7 823.9,365.8 821.9,364.8C819.8,363.7 816.9,361.5 815.3,360.1C813.8,358.7 812.2,356.7 811.6,355.4C811.0,354.2 810.8,352.7 811.1,351.7C811.5,350.7 812.6,348.9 813.9,348.9Z" fill="#f7c04a" />
<path d="M806.9,339.6C807.2,338.8 810.8,337.8 812.5,337.3C814.3,336.8 818.5,336.0 820.0,335.9C821.5,335.7 823.1,335.8 823.7,336.3C824.3,336.8 824.9,338.7 824.6,339.6C824.4,340.5 822.8,342.5 821.9,343.3C820.9,344.2 818.2,345.6 817.2,346.1C816.2,346.6 815.3,347.4 814.4,347.1C813.5,346.7 811.7,344.3 810.7,343.3C809.7,342.3 806.7,340.4 806.9,339.6Z" fill="#f2f2f2" />
<line x1="833.0" y1="371.3" x2="826.5" y2="377.8" stroke="#424242" stroke-width="1.5" stroke-linecap="round"/>
<line x1="826.5" y1="377.8" x2="816.3" y2="379.2" stroke="#424242" stroke-width="1.5" stroke-linecap="round"/>
<line x1="826.5" y1="377.8" x2="833.0" y2="378.3" stroke="#424242" stroke-width="1.5" stroke-linecap="round"/>
<line x1="842.4" y1="369.9" x2="835.8" y2="379.7" stroke="#424242" stroke-width="1.5" stroke-linecap="round"/>
<line x1="835.8" y1="379.7" x2="826.5" y2="383.9" stroke="#424242" stroke-width="1.5" stroke-linecap="round"/>
<line x1="835.8" y1="379.7" x2="842.4" y2="381.6" stroke="#424242" stroke-width="1.5" stroke-linecap="round"/>
<line x1="842.4" y1="381.6" x2="845.2" y2="380.6" stroke="#424242" stroke-width="1.5" stroke-linecap="round"/>
<polygon points="911.6,95.5 911.6,127.3 919.1,127.3 919.1,134.0 893.1,134.0 893.1,127.3 901.8,127.3 901.8,104.2 893.2,107.0 892.6,101.7 903.8,95.5" fill="#ffffff" stroke="#ffffff" stroke-width="0.6" stroke-linejoin="round"/>
<text x="841.46" y="158.25" font-size="21.80"   fill="#ffffff" textLength="128.97" lengthAdjust="spacingAndGlyphs" transform="rotate(0.05 906.1 158.2)"  stroke="#ffffff" stroke-width="0.3" stroke-linejoin="round">Grauwe gans</text>
<text x="849.58" y="185.15" font-size="21.95"   fill="#ffffff" textLength="113.01" lengthAdjust="spacingAndGlyphs" transform="rotate(0.05 905.7 185.2)"  stroke="#ffffff" stroke-width="0.3" stroke-linejoin="round">€ 2.505.041</text>
<text x="930.77" y="285.15" font-size="50.27" font-weight="bold"  fill="#424242" textLength="26.92" lengthAdjust="spacingAndGlyphs" transform="rotate(0.05 944.1 285.2)"  stroke="#424242" stroke-width="0.9" stroke-linejoin="round">2</text>
<text x="911.47" y="307.40" font-size="18.31"   fill="#111111" textLength="67.30" lengthAdjust="spacingAndGlyphs" transform="rotate(0.05 945.5 307.4)"  stroke="#111111" stroke-width="0.4" stroke-linejoin="round">Kolgans</text>
<text x="904.26" y="328.40" font-size="18.02"   fill="#111111" textLength="81.25" lengthAdjust="spacingAndGlyphs" transform="rotate(0.05 944.5 328.4)"  stroke="#111111" stroke-width="0.4" stroke-linejoin="round">€ 832.073</text>
<text x="594.52" y="244.80" font-size="36.12" font-weight="bold"  fill="#424242" textLength="18.55" lengthAdjust="spacingAndGlyphs" transform="rotate(0.05 603.9 244.8)"  stroke="#424242" stroke-width="0.9" stroke-linejoin="round">5</text>
<text x="620.83" y="229.60" font-size="14.54"   fill="#111111" textLength="78.79" lengthAdjust="spacingAndGlyphs" transform="rotate(0.05 660.5 229.6)"  stroke="#111111" stroke-width="0.4" stroke-linejoin="round">Pimpelmees</text>
<text x="620.99" y="246.40" font-size="14.24"   fill="#111111" textLength="61.79" lengthAdjust="spacingAndGlyphs" transform="rotate(0.05 651.6 246.4)"  stroke="#111111" stroke-width="0.4" stroke-linejoin="round">€ 249.155</text>
<text x="615.83" y="307.75" font-size="43.31" font-weight="bold"  fill="#424242" textLength="22.84" lengthAdjust="spacingAndGlyphs" transform="rotate(0.05 627.5 307.8)"  stroke="#424242" stroke-width="0.9" stroke-linejoin="round">4</text>
<text x="646.43" y="287.30" font-size="15.84"   fill="#111111" textLength="31.95" lengthAdjust="spacingAndGlyphs" transform="rotate(0.05 662.5 287.3)"  stroke="#111111" stroke-width="0.4" stroke-linejoin="round">Wolf</text>
<text x="646.08" y="306.50" font-size="15.41"   fill="#111111" textLength="67.18" lengthAdjust="spacingAndGlyphs" transform="rotate(0.05 679.4 306.5)"  stroke="#111111" stroke-width="0.4" stroke-linejoin="round">€ 366.017</text>
<text x="691.66" y="366.98" font-size="47.37" font-weight="bold"  fill="#424242" textLength="23.94" lengthAdjust="spacingAndGlyphs" transform="rotate(0.05 703.4 367.0)"  stroke="#424242" stroke-width="0.9" stroke-linejoin="round">3</text>
<text x="720.44" y="345.30" font-size="16.28"   fill="#111111" textLength="40.67" lengthAdjust="spacingAndGlyphs" transform="rotate(0.05 741.2 345.3)"  stroke="#111111" stroke-width="0.4" stroke-linejoin="round">Mees</text>
<text x="720.97" y="365.60" font-size="16.13"   fill="#111111" textLength="73.21" lengthAdjust="spacingAndGlyphs" transform="rotate(0.05 757.4 365.6)"  stroke="#111111" stroke-width="0.4" stroke-linejoin="round">€ 422.924</text>
<path d="M609.80,582.90L687.36,457.32A147.6,147.6 0 0 1 757.15,574.29Z" fill="#ae4e3a"/>
<path d="M609.80,582.90L757.15,574.29A147.6,147.6 0 0 1 747.76,635.37Z" fill="#ffffff"/>
<path d="M609.80,582.90L747.76,635.37A147.6,147.6 0 0 1 735.88,659.64Z" fill="#f7c04a"/>
<path d="M609.80,582.90L735.88,659.64A147.6,147.6 0 0 1 720.54,680.48Z" fill="#696568"/>
<path d="M609.80,582.90L720.54,680.48A147.6,147.6 0 1 1 687.36,457.32Z" fill="#57a67a"/>
<clipPath id="gw"><path d="M609.8,582.9L720.54,680.48A147.6,147.6 0 1 1 687.36,457.32Z"/></clipPath>
<g clip-path="url(#gw)">
<path d="M468.1,621.9C468.2,620.6 475.8,626.4 477.9,628.2C480.1,630.0 487.6,637.5 489.6,639.8C491.6,642.2 496.8,647.4 497.7,651.5C498.6,655.6 499.6,679.8 498.6,681.1C497.5,682.4 489.1,668.9 486.9,665.0C484.8,661.0 478.9,645.9 477.0,641.6C475.2,637.3 468.0,623.3 468.1,621.9Z" fill="#82be9b" />
<path d="M489.6,601.3C489.5,601.9 497.4,625.6 498.6,630.9C499.8,636.2 501.2,649.2 501.6,654.2C502.0,659.2 502.5,672.8 502.7,681.1C502.8,689.3 499.4,731.3 503.0,736.7C506.7,742.1 535.6,737.8 539.2,735.3C542.8,732.9 539.3,714.7 539.2,712.3C539.1,709.8 538.7,712.0 538.2,710.8C537.7,709.7 535.7,703.6 534.6,700.7C533.5,697.9 529.0,685.7 527.4,682.0C525.8,678.2 520.5,667.0 518.7,663.3C517.0,659.5 512.0,648.4 510.1,644.5C508.2,640.6 502.0,628.6 500.0,624.3C498.0,620.0 489.7,600.6 489.6,601.3Z" fill="#82be9b" />
<path d="M569.4,596.8C569.8,595.7 563.0,601.8 560.4,604.0C557.9,606.1 547.4,615.1 544.3,618.3C541.3,621.5 532.3,633.2 530.0,636.3C527.6,639.3 521.2,646.0 521.0,648.8C520.7,651.7 526.2,661.2 527.4,664.7C528.6,668.2 532.2,679.8 533.2,683.4C534.1,687.0 536.2,698.0 536.8,700.7C537.3,703.5 538.6,712.7 538.9,711.1C539.3,709.5 540.0,689.4 540.4,684.9C540.7,680.4 542.0,670.0 542.5,666.1C543.1,662.2 545.3,649.7 546.1,646.0C546.9,642.2 549.4,631.8 550.5,628.7C551.5,625.5 555.0,617.9 556.9,614.7C558.8,611.5 569.1,597.9 569.4,596.8Z" fill="#82be9b" />
<path d="M539.2,711.6C539.9,707.5 544.7,698.4 546.1,695.0C547.5,691.6 552.6,679.8 553.3,677.7C554.1,675.5 554.4,674.8 554.1,673.3C553.7,671.9 549.4,663.6 549.7,663.3C550.1,662.9 556.1,670.3 557.7,669.7C559.3,669.2 565.7,660.0 565.6,657.5C565.5,655.0 558.0,646.7 556.2,644.5C554.5,642.3 547.9,636.1 548.3,635.9C548.7,635.6 558.3,640.3 560.6,641.6C562.8,643.0 569.2,648.9 570.6,649.6C572.1,650.2 574.0,649.1 575.0,648.1C575.9,647.1 579.9,639.0 580.0,639.5C580.2,640.0 576.5,651.1 576.4,653.2C576.3,655.3 578.4,658.2 579.3,660.4C580.2,662.5 584.3,671.9 585.1,674.8C585.8,677.7 586.3,686.0 586.5,689.2C586.7,692.4 586.8,704.2 586.9,706.5C587.1,708.8 587.6,709.4 587.7,712.3C587.7,715.2 592.5,733.0 587.7,735.3C582.8,737.6 544.1,737.7 539.2,735.3C534.4,733.0 538.5,715.6 539.2,711.6Z" fill="#82be9b" />
<path d="M576.6,620.0C577.1,620.4 587.0,637.4 589.4,641.6C591.8,645.8 598.9,658.2 600.9,661.8C602.9,665.4 607.8,674.4 609.6,677.7C611.3,681.0 616.8,691.8 618.2,695.0C619.7,698.1 623.1,706.8 624.0,709.4C624.9,712.0 626.6,718.3 626.9,720.9C627.2,723.5 631.1,733.9 627.2,735.3C623.2,736.8 591.6,737.6 587.7,735.3C583.7,733.0 587.6,715.7 587.7,712.3C587.7,708.8 588.1,704.2 588.2,700.7C588.3,697.3 588.8,682.0 588.7,677.7C588.6,673.3 587.7,661.5 587.2,657.5C586.7,653.4 584.7,641.0 583.6,637.3C582.6,633.6 576.0,619.6 576.6,620.0Z" fill="#82be9b" />
<path d="M654.1,621.8C653.3,621.8 639.4,632.3 636.0,635.1C632.7,637.8 623.0,646.5 620.4,649.2C617.7,651.8 609.9,658.9 609.4,661.7C608.9,664.6 614.1,674.3 615.3,677.7C616.6,681.0 620.8,691.8 621.8,695.0C622.8,698.1 624.9,706.8 625.4,709.4C626.0,712.0 626.9,721.1 627.2,721.2C627.4,721.3 627.9,713.3 628.2,710.3C628.5,707.3 630.0,695.6 630.6,691.5C631.1,687.4 633.0,673.6 633.7,669.6C634.4,665.5 636.6,654.2 637.6,650.7C638.6,647.3 642.2,638.0 643.9,635.1C645.5,632.2 654.9,621.8 654.1,621.8Z" fill="#82be9b" />
<path d="M672.9,652.3C673.5,651.8 666.9,660.9 665.8,663.3C664.7,665.6 662.5,673.0 661.9,675.8C661.4,678.6 660.5,688.7 660.3,691.5C660.2,694.3 659.5,701.5 660.3,704.0C661.2,706.5 667.8,713.6 669.0,716.6C670.1,719.5 676.4,732.1 672.1,733.8C667.8,735.5 630.8,735.0 626.3,733.8C621.8,732.6 626.5,723.9 627.0,722.1C627.5,720.2 630.1,717.3 631.3,715.0C632.6,712.7 637.5,702.5 639.2,699.3C640.9,696.2 646.5,686.8 648.6,683.7C650.6,680.5 657.1,671.1 659.6,668.0C662.0,664.9 672.2,652.8 672.9,652.3Z" fill="#82be9b" />
<path d="M650.9,661.7C651.2,661.4 659.6,666.3 660.3,667.2C661.0,668.1 658.9,670.9 658.0,670.3C657.0,669.8 650.7,662.0 650.9,661.7Z" fill="#82be9b" />
<path d="M664.3,670.3C664.6,669.7 671.3,674.2 673.7,675.8C676.0,677.5 685.3,684.7 687.8,686.8C690.3,688.9 696.9,694.6 698.7,697.0C700.6,699.3 707.7,707.4 706.6,710.3C705.5,713.2 690.4,725.9 687.8,726.0C685.1,726.0 681.0,713.9 679.9,711.1C678.8,708.3 677.7,700.7 676.8,697.8C675.9,694.9 671.8,684.8 670.5,682.1C669.3,679.3 663.9,671.0 664.3,670.3Z" fill="#82be9b" />
<path d="M571.4,667.6C570.4,667.6 568.7,679.3 569.2,682.0C569.7,684.7 574.6,692.0 576.4,695.0C578.3,697.9 586.9,711.3 587.7,711.6C588.5,711.8 585.3,700.8 584.3,697.9C583.4,694.9 579.9,685.0 578.6,682.0C577.3,679.0 572.3,667.6 571.4,667.6Z" fill="#57a67a" />
</g>
<polygon points="552.1,495.4 552.1,527.2 559.6,527.2 559.6,534.0 533.6,534.0 533.6,527.2 542.3,527.2 542.3,504.1 533.7,507.0 533.1,501.6 544.3,495.4" fill="#ffffff" stroke="#ffffff" stroke-width="0.6" stroke-linejoin="round"/>
<text x="501.34" y="559.55" font-size="21.80"   fill="#ffffff" textLength="89.22" lengthAdjust="spacingAndGlyphs" transform="rotate(0.05 545.8 559.6)"  stroke="#ffffff" stroke-width="0.3" stroke-linejoin="round">Grasland</text>
<text x="489.68" y="585.55" font-size="22.09"   fill="#ffffff" textLength="112.98" lengthAdjust="spacingAndGlyphs" transform="rotate(0.05 545.8 585.6)"  stroke="#ffffff" stroke-width="0.3" stroke-linejoin="round">€ 3.360.749</text>
<line x1="753.0" y1="524.4" x2="769.4" y2="510.2" stroke="#5a625e" stroke-width="1.0" />
<line x1="762.2" y1="602.3" x2="783.1" y2="595.1" stroke="#5a625e" stroke-width="1.0" />
<line x1="750.0" y1="645.3" x2="775.9" y2="647.3" stroke="#5a625e" stroke-width="1.0" />
<line x1="737.0" y1="674.5" x2="763.9" y2="691.6" stroke="#5a625e" stroke-width="1.0" />
<path d="M764.3,458.1C765.9,458.1 767.5,458.2 768.9,459.2C770.2,460.1 771.4,461.8 772.2,463.7C773.1,465.6 773.4,468.2 773.9,470.5C774.5,472.7 774.8,475.0 775.6,477.2C776.5,479.5 778.3,481.9 779.0,484.0C779.8,486.1 780.2,487.7 780.1,489.6C780.0,491.6 779.6,494.1 778.4,495.9C777.3,497.6 775.3,499.4 773.4,500.4C771.4,501.4 768.9,501.6 766.6,501.8C764.3,502.0 762.1,501.7 759.8,501.5C757.6,501.3 755.1,501.2 753.1,500.4C751.0,499.5 748.8,498.0 747.4,496.4C746.1,494.8 745.2,492.8 744.9,490.8C744.6,488.7 744.9,486.3 745.7,484.0C746.5,481.7 748.4,479.5 749.7,477.2C751.0,475.0 752.6,472.7 753.6,470.5C754.7,468.2 754.9,465.6 755.9,463.7C756.8,461.8 757.8,460.1 759.3,459.2C760.7,458.2 762.7,458.1 764.3,458.1Z" fill="#b04a36" />
<polygon points="762.1,450.2 763.8,450.5 765.5,453.5 765.8,459.0 764.0,459.0 763.8,454.7" fill="#b04a36" />
<path d="M765.5,454.1C765.3,453.4 766.8,451.0 767.7,450.2C768.6,449.3 770.7,448.2 772.2,447.9C773.7,447.6 778.3,447.6 779.0,448.1C779.7,448.7 778.1,451.0 777.3,451.8C776.6,452.7 774.5,454.2 773.4,454.7C772.2,455.1 769.9,455.3 768.9,455.2C767.8,455.2 765.6,454.8 765.5,454.1Z" fill="#b04a36" />
<path d="M771.5,546.5C771.9,546.3 776.0,545.4 776.5,545.5C777.0,545.7 776.9,547.8 776.5,548.0C776.2,548.3 773.5,548.2 773.0,548.0C772.5,547.9 771.2,546.8 771.5,546.5Z" fill="#ffffff" />
<path d="M784.1,546.0C784.5,545.7 788.3,544.9 788.6,545.0C788.9,545.2 787.5,547.2 787.1,547.5C786.6,547.8 784.4,548.2 784.1,548.0C783.8,547.9 783.6,546.3 784.1,546.0Z" fill="#ffffff" />
<path d="M776.0,546.0C776.9,545.3 783.2,545.5 784.1,546.0C785.0,546.5 785.0,550.1 785.1,551.0C785.1,551.9 784.9,554.4 784.6,555.0C784.3,555.6 782.7,556.9 782.1,557.0C781.4,557.2 778.7,556.9 778.1,556.5C777.4,556.1 775.7,554.1 775.5,553.0C775.3,552.0 775.2,546.7 776.0,546.0Z" fill="#ffffff" />
<path d="M775.5,555.0C776.5,554.2 778.0,553.5 780.1,553.0C782.1,552.5 785.2,552.2 788.1,552.0C790.9,551.9 794.6,551.7 797.1,552.0C799.6,552.4 801.6,552.9 803.1,554.0C804.6,555.2 805.5,557.0 806.1,559.1C806.7,561.1 806.8,563.9 806.6,566.1C806.4,568.2 805.9,570.7 805.1,572.1C804.4,573.5 803.8,574.0 802.1,574.6C800.4,575.2 797.9,575.4 795.1,575.6C792.2,575.8 787.9,575.8 785.1,575.6C782.2,575.3 779.9,575.0 778.1,574.1C776.2,573.2 774.9,571.7 774.0,570.1C773.2,568.4 773.0,566.1 773.0,564.1C773.0,562.1 773.6,559.6 774.0,558.1C774.5,556.5 774.5,555.9 775.5,555.0Z" fill="#ffffff" />
<rect x="780.06" y="574.09" width="2.20" height="12.03" fill="#ffffff" rx="0.8"/>
<rect x="785.07" y="574.59" width="2.51" height="12.53" fill="#ffffff" rx="0.8"/>
<rect x="792.08" y="574.59" width="2.20" height="11.02" fill="#ffffff" rx="0.8"/>
<rect x="801.60" y="573.08" width="2.51" height="14.03" fill="#ffffff" rx="0.8"/>
<rect x="789.51" y="609.12" width="4.20" height="4.20" fill="#f7c04a" rx="1.7"/>
<rect x="794.22" y="609.12" width="4.20" height="4.20" fill="#f7c04a" rx="1.7"/>
<rect x="786.66" y="613.59" width="4.90" height="4.90" fill="#f7c04a" rx="1.7"/>
<rect x="791.67" y="613.59" width="4.90" height="4.90" fill="#f7c04a" rx="1.7"/>
<rect x="797.48" y="613.59" width="4.90" height="4.90" fill="#f7c04a" rx="1.7"/>
<rect x="786.46" y="618.40" width="4.90" height="4.90" fill="#f7c04a" rx="1.7"/>
<rect x="792.47" y="618.40" width="4.90" height="4.90" fill="#f7c04a" rx="1.7"/>
<rect x="798.88" y="618.40" width="4.90" height="4.90" fill="#f7c04a" rx="1.7"/>
<rect x="787.16" y="623.21" width="4.90" height="4.90" fill="#f7c04a" rx="1.7"/>
<rect x="793.17" y="623.21" width="4.90" height="4.90" fill="#f7c04a" rx="1.7"/>
<rect x="799.49" y="623.21" width="4.90" height="4.90" fill="#f7c04a" rx="1.7"/>
<rect x="788.16" y="627.62" width="4.90" height="4.90" fill="#f7c04a" rx="1.7"/>
<rect x="793.97" y="627.62" width="4.90" height="4.90" fill="#f7c04a" rx="1.7"/>
<rect x="800.49" y="627.62" width="4.90" height="4.90" fill="#f7c04a" rx="1.7"/>
<rect x="789.16" y="632.13" width="4.90" height="4.90" fill="#f7c04a" rx="1.7"/>
<rect x="795.18" y="632.13" width="4.90" height="4.90" fill="#f7c04a" rx="1.7"/>
<rect x="801.19" y="632.13" width="4.90" height="4.90" fill="#f7c04a" rx="1.7"/>
<rect x="790.87" y="636.64" width="4.90" height="4.90" fill="#f7c04a" rx="1.7"/>
<rect x="795.98" y="636.64" width="4.90" height="4.90" fill="#f7c04a" rx="1.7"/>
<rect x="800.69" y="636.64" width="4.90" height="4.90" fill="#f7c04a" rx="1.7"/>
<rect x="796.53" y="641.50" width="4.20" height="4.20" fill="#f7c04a" rx="1.7"/>
<rect x="797.53" y="645.20" width="4.20" height="4.20" fill="#f7c04a" rx="1.7"/>
<path d="M784.1,636.6C784.1,635.5 786.0,636.3 787.1,637.1C788.2,637.8 790.8,640.5 792.1,642.1C793.5,643.7 795.9,647.2 797.1,649.1C798.3,651.0 800.4,654.2 801.1,656.1C801.9,658.1 802.9,662.8 802.6,663.6C802.4,664.5 800.3,663.2 799.1,662.6C798.0,662.0 795.3,660.4 794.1,659.1C792.9,657.9 791.0,655.0 790.1,653.1C789.2,651.2 787.9,647.3 787.1,645.1C786.3,642.9 784.1,637.6 784.1,636.6Z" fill="#f7c04a" />
<path d="M811.2,632.1C811.6,632.7 811.8,637.7 811.7,640.1C811.5,642.5 810.8,647.7 810.2,650.1C809.6,652.5 808.0,656.5 807.1,658.1C806.3,659.8 804.2,662.9 803.6,662.6C803.0,662.4 802.8,658.1 802.6,656.1C802.5,654.2 802.3,650.1 802.6,648.1C803.0,646.1 804.4,642.8 805.1,641.1C805.9,639.4 807.3,636.8 808.1,635.6C809.0,634.4 810.7,631.5 811.2,632.1Z" fill="#f7c04a" />
<path d="M0,-5.41C4.89,-2.44 4.49,2.98 0,5.41C-4.49,2.98 -4.89,-2.44 0,-5.41Z" fill="#646464" transform="translate(793.34,680.83) rotate(18)"/>
<path d="M0,-5.01C4.76,-2.25 4.38,2.76 0,5.01C-4.38,2.76 -4.76,-2.25 0,-5.01Z" fill="#646464" transform="translate(786.12,686.05) rotate(-22)"/>
<path d="M0,-5.01C4.76,-2.25 4.38,2.76 0,5.01C-4.38,2.76 -4.76,-2.25 0,-5.01Z" fill="#646464" transform="translate(783.32,693.56) rotate(-22)"/>
<path d="M0,-5.01C4.76,-2.25 4.38,2.76 0,5.01C-4.38,2.76 -4.76,-2.25 0,-5.01Z" fill="#646464" transform="translate(780.61,701.08) rotate(-22)"/>
<path d="M0,-5.01C4.76,-2.25 4.38,2.76 0,5.01C-4.38,2.76 -4.76,-2.25 0,-5.01Z" fill="#646464" transform="translate(777.60,708.60) rotate(-22)"/>
<path d="M0,-5.41C4.38,-2.44 4.03,2.98 0,5.41C-4.03,2.98 -4.38,-2.44 0,-5.41Z" fill="#646464" transform="translate(795.14,689.25) rotate(62)"/>
<path d="M0,-5.41C4.38,-2.44 4.03,2.98 0,5.41C-4.03,2.98 -4.38,-2.44 0,-5.41Z" fill="#646464" transform="translate(792.14,696.87) rotate(62)"/>
<path d="M0,-5.41C4.38,-2.44 4.03,2.98 0,5.41C-4.03,2.98 -4.38,-2.44 0,-5.41Z" fill="#646464" transform="translate(789.63,704.29) rotate(62)"/>
<path d="M0,-5.41C4.38,-2.44 4.03,2.98 0,5.41C-4.03,2.98 -4.38,-2.44 0,-5.41Z" fill="#646464" transform="translate(786.93,711.90) rotate(62)"/>
<line x1="781.3" y1="713.9" x2="774.6" y2="730.6" stroke="#646464" stroke-width="1.0" />
<text x="786.73" y="497.70" font-size="51.63" font-weight="bold"  fill="#424242" textLength="27.61" lengthAdjust="spacingAndGlyphs" transform="rotate(0.05 800.4 497.7)"  stroke="#424242" stroke-width="0.9" stroke-linejoin="round">2</text>
<text x="821.42" y="475.60" font-size="18.60"   fill="#111111" textLength="38.18" lengthAdjust="spacingAndGlyphs" transform="rotate(0.05 841.1 475.6)"  stroke="#111111" stroke-width="0.4" stroke-linejoin="round">Peer</text>
<text x="821.26" y="496.30" font-size="18.31"   fill="#111111" textLength="81.97" lengthAdjust="spacingAndGlyphs" transform="rotate(0.05 861.9 496.3)"  stroke="#111111" stroke-width="0.4" stroke-linejoin="round">€ 709.497</text>
<text x="812.09" y="583.13" font-size="46.09" font-weight="bold"  fill="#424242" textLength="23.27" lengthAdjust="spacingAndGlyphs" transform="rotate(0.05 823.5 583.1)"  stroke="#424242" stroke-width="0.9" stroke-linejoin="round">3</text>
<text x="842.36" y="561.40" font-size="16.42"   fill="#111111" textLength="54.92" lengthAdjust="spacingAndGlyphs" transform="rotate(0.05 869.8 561.4)"  stroke="#111111" stroke-width="0.4" stroke-linejoin="round">Schaap</text>
<text x="842.57" y="581.50" font-size="16.42"   fill="#111111" textLength="72.84" lengthAdjust="spacingAndGlyphs" transform="rotate(0.05 878.7 581.5)"  stroke="#111111" stroke-width="0.4" stroke-linejoin="round">€ 311.988</text>
<text x="820.31" y="647.85" font-size="42.88" font-weight="bold"  fill="#424242" textLength="23.67" lengthAdjust="spacingAndGlyphs" transform="rotate(0.05 832.4 647.8)"  stroke="#424242" stroke-width="0.9" stroke-linejoin="round">4</text>
<text x="849.39" y="629.80" font-size="15.41"   fill="#111111" textLength="59.48" lengthAdjust="spacingAndGlyphs" transform="rotate(0.05 879.2 629.8)"  stroke="#111111" stroke-width="0.4" stroke-linejoin="round">Snijmais</text>
<text x="849.98" y="648.40" font-size="15.26"   fill="#111111" textLength="66.97" lengthAdjust="spacingAndGlyphs" transform="rotate(0.05 883.1 648.4)"  stroke="#111111" stroke-width="0.4" stroke-linejoin="round">€ 135.607</text>
<text x="808.42" y="709.50" font-size="35.40" font-weight="bold"  fill="#424242" textLength="18.55" lengthAdjust="spacingAndGlyphs" transform="rotate(0.05 817.8 709.5)"  stroke="#424242" stroke-width="0.9" stroke-linejoin="round">5</text>
<text x="833.63" y="693.70" font-size="14.83"   fill="#111111" textLength="81.34" lengthAdjust="spacingAndGlyphs" transform="rotate(0.05 873.9 693.7)"  stroke="#111111" stroke-width="0.4" stroke-linejoin="round">Wintergraan</text>
<text x="832.99" y="710.10" font-size="13.95"   fill="#111111" textLength="62.62" lengthAdjust="spacingAndGlyphs" transform="rotate(0.05 864.0 710.1)"  stroke="#111111" stroke-width="0.4" stroke-linejoin="round">€ 129.872</text>
<text x="950.11" y="460.90" font-size="42.30" font-weight="bold"  fill="#57a67a" textLength="113.74" lengthAdjust="spacingAndGlyphs" transform="rotate(0.05 1006.7 460.9)"  stroke="#57a67a" stroke-width="0.9" stroke-linejoin="round">TOP 5</text>
<text x="935.41" y="496.05" font-size="25.47" font-weight="bold"  fill="#57a67a" textLength="129.82" lengthAdjust="spacingAndGlyphs" transform="rotate(0.05 1000.0 496.1)"  stroke="#57a67a" stroke-width="0.5" stroke-linejoin="round">schade aan</text>
<text x="943.77" y="527.75" font-size="25.47" font-weight="bold"  fill="#57a67a" textLength="120.61" lengthAdjust="spacingAndGlyphs" transform="rotate(0.05 1004.5 527.8)"  stroke="#57a67a" stroke-width="0.5" stroke-linejoin="round">gewassen/</text>
<text x="932.26" y="558.75" font-size="25.47" font-weight="bold"  fill="#57a67a" textLength="132.99" lengthAdjust="spacingAndGlyphs" transform="rotate(0.05 998.5 558.8)"  stroke="#57a67a" stroke-width="0.5" stroke-linejoin="round">diersoorten</text>
<path d="M940.4,757V726.5a5,5 0 0 1 5,-5H1068.6a5,5 0 0 1 5,5V757Z" fill="#ffffff"/>
<path d="M950,732H957.5a5.4,5.4 0 0 1 0,10.8H950M957.5,742.8H958.6a5.7,5.7 0 0 1 0,11.4H950V732" fill="none" stroke="#a8523e" stroke-width="2.9" stroke-linejoin="miter"/>
<rect x="968.90" y="730.50" width="3.10" height="10.10" fill="#a8523e" rx="0.6"/>
<path d="M977.05,730.5V742.6a3.3,3.3 0 0 1 -3.3,3.3H970.4" fill="none" stroke="#a8523e" stroke-width="3.1" stroke-linecap="butt"/>
<text x="967.98" y="755.70" font-size="7.85" font-weight="bold"  fill="#a8523e" textLength="11.02" lengthAdjust="spacingAndGlyphs" transform="rotate(0.05 973.6 755.7)" >12</text>
<line x1="993.5" y1="730.0" x2="993.5" y2="755.6" stroke="#a8523e" stroke-width="0.9" />
<text x="1008.27" y="741.50" font-size="6.10"   fill="#a8523e" textLength="56.74" lengthAdjust="spacingAndGlyphs" transform="rotate(0.05 1036.5 741.5)" >Werkt voor provincies</text>
<g transform="translate(1090.6,756.3) rotate(-90)">
<text x="-0.71" y="0.00" font-size="10.03"   fill="#8f8f8f" textLength="45.35" lengthAdjust="spacingAndGlyphs" transform="rotate(0.05 22.1 0.0)" >Bron: BIJ12</text>
<text x="55.18" y="0.00" font-size="10.03"  font-style="italic" fill="#8f8f8f" textLength="121.72" lengthAdjust="spacingAndGlyphs" transform="rotate(0.05 116.3 0.0)" >Vormgeving: Ocelot Ontwerp</text>
</g>
</svg>
<div class="frame"><div class="fb1"></div><div class="fb2"></div><div class="fr1"></div><div class="fr2"></div><div class="fl"></div><div class="ft"></div></div>
</body></html>
